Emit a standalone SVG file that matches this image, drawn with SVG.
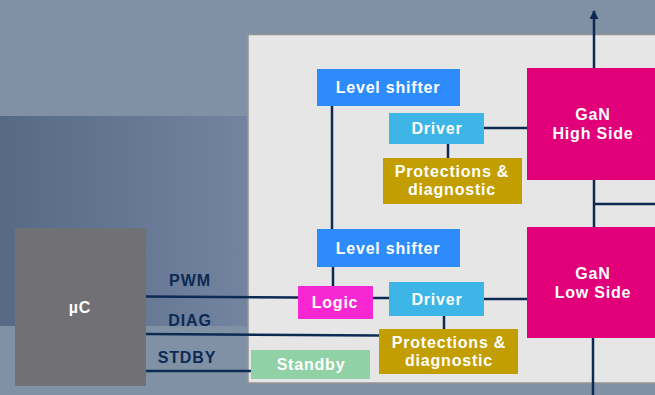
<svg xmlns="http://www.w3.org/2000/svg" width="655" height="395" viewBox="0 0 655 395">
  <defs>
    <linearGradient id="band" x1="0" y1="0" x2="1" y2="0">
      <stop offset="0" stop-color="#566a85"/>
      <stop offset="1" stop-color="#7384a0"/>
    </linearGradient>
    <marker id="arrow" viewBox="0 0 10 10" refX="9" refY="5" markerWidth="3.6" markerHeight="3.6" orient="auto" markerUnits="strokeWidth">
      <path d="M0,0 L10,5 L0,10 z" fill="#0c2a52"/>
    </marker>
    <style>
      .wire { stroke: #0c2a52; stroke-width: 2.5; fill: none; }
      .lbl { font-family: "Liberation Sans", Arial, sans-serif; font-weight: bold; font-size: 16px; fill: #ffffff; text-anchor: middle; letter-spacing: 0.8px; }
      .sig { font-family: "Liberation Sans", Arial, sans-serif; font-weight: bold; font-size: 16px; fill: #0d2a55; text-anchor: middle; letter-spacing: 0.9px; }
      .ls { fill: #2e8bfc; }
      .drv { fill: #3db6e7; }
      .prot { fill: #c29e00; }
      .gan { fill: #e2007a; }
    </style>
  </defs>

  <!-- backdrop -->
  <rect x="0" y="0" width="655" height="395" fill="#8091a6"/>
  <rect x="0" y="116" width="248" height="210" fill="url(#band)"/>

  <!-- driver IC panel -->
  <rect id="panel" x="248" y="34.5" width="420" height="348.5" fill="#e6e6e6" stroke="#949494" stroke-width="1.5"/>

  <!-- connectors -->
  <g id="connectors">
    <line class="wire" x1="594" y1="68" x2="594" y2="11" marker-end="url(#arrow)"/>
    <line class="wire" x1="594" y1="180" x2="594" y2="227"/>
    <line class="wire" x1="594" y1="204" x2="655" y2="204"/>
    <line class="wire" x1="593" y1="338" x2="593" y2="395"/>
    <line class="wire" x1="484" y1="128" x2="527" y2="128"/>
    <line class="wire" x1="448" y1="144" x2="448" y2="158"/>
    <line class="wire" x1="332" y1="106" x2="332" y2="229"/>
    <line class="wire" x1="333" y1="267" x2="333" y2="286"/>
    <line class="wire" x1="373" y1="298" x2="389" y2="298"/>
    <line class="wire" x1="484" y1="299" x2="527" y2="299"/>
    <line class="wire" x1="444" y1="316" x2="444" y2="329"/>
    <line class="wire" x1="146" y1="296.5" x2="298" y2="297.5"/>
    <line class="wire" x1="146" y1="334" x2="379" y2="335.5"/>
    <line class="wire" x1="146" y1="371" x2="251" y2="371"/>
  </g>

  <!-- signal names -->
  <text class="sig" x="190" y="286">PWM</text>
  <text class="sig" x="190" y="326">DIAG</text>
  <text class="sig" x="187" y="363">STDBY</text>

  <g id="uc">
    <rect x="15" y="228" width="131" height="158" fill="#717074"/>
    <text class="lbl" x="80" y="313">µC</text>
  </g>

  <g id="level-shifter-high">
    <rect class="ls" x="317" y="69" width="143" height="37"/>
    <text class="lbl" x="388" y="93">Level shifter</text>
  </g>

  <g id="driver-high">
    <rect class="drv" x="389" y="113" width="95" height="31"/>
    <text class="lbl" x="437" y="134">Driver</text>
  </g>

  <g id="protections-high">
    <rect class="prot" x="383" y="158" width="139" height="46"/>
    <text class="lbl" x="452" y="177">Protections &amp;</text>
    <text class="lbl" x="452" y="195">diagnostic</text>
  </g>

  <g id="gan-high">
    <rect class="gan" x="527" y="68" width="140" height="112"/>
    <text class="lbl" x="593" y="120">GaN</text>
    <text class="lbl" x="593" y="139">High Side</text>
  </g>

  <g id="level-shifter-low">
    <rect class="ls" x="317" y="229" width="143" height="38"/>
    <text class="lbl" x="388" y="254">Level shifter</text>
  </g>

  <g id="logic">
    <rect x="298" y="286" width="75" height="33" fill="#f728d4"/>
    <text class="lbl" x="335" y="308">Logic</text>
  </g>

  <g id="driver-low">
    <rect class="drv" x="389" y="282" width="95" height="34"/>
    <text class="lbl" x="437" y="305">Driver</text>
  </g>

  <g id="protections-low">
    <rect class="prot" x="379" y="329" width="139" height="45"/>
    <text class="lbl" x="449" y="348">Protections &amp;</text>
    <text class="lbl" x="449" y="366">diagnostic</text>
  </g>

  <g id="gan-low">
    <rect class="gan" x="527" y="227" width="140" height="111"/>
    <text class="lbl" x="593" y="279">GaN</text>
    <text class="lbl" x="593" y="298">Low Side</text>
  </g>

  <g id="standby">
    <rect x="251" y="350" width="119" height="29" fill="#90d1a6"/>
    <text class="lbl" x="311" y="370">Standby</text>
  </g>
</svg>
